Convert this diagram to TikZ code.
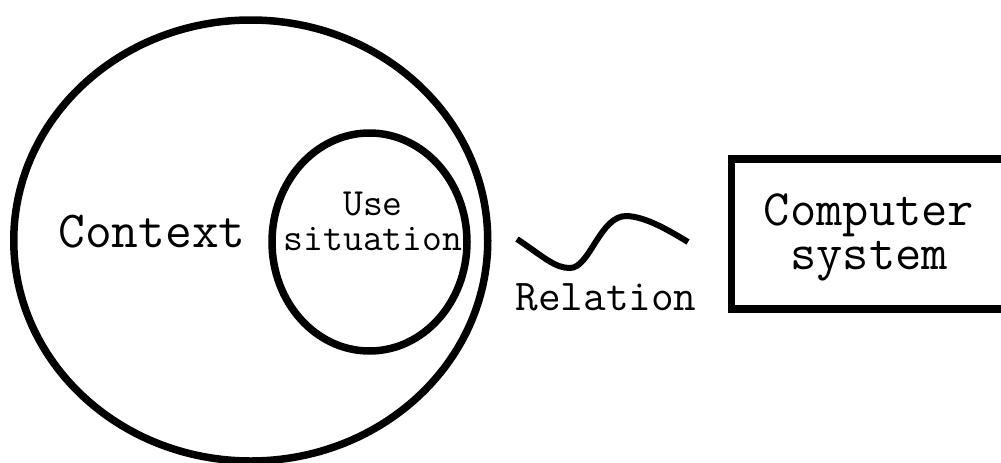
\documentclass[tikz,border=0pt]{standalone}
\begin{document}
\begin{tikzpicture}[x=1pt,y=1pt,
  shape line/.style={draw=black, line width=7.5pt},
  wave line/.style={draw=black, line width=6pt},
  txt/.style={inner sep=0pt, anchor=base, align=center}]
\useasboundingbox (0,0) rectangle (1001,-463);
\fill[white] (0,0) rectangle (1001,-463);
% outer context ellipse
\draw[shape line] (250.75,-240.5) ellipse [x radius=237, y radius=220.5];
% inner use situation ellipse
\draw[shape line] (369.5,-242) ellipse [x radius=97.5, y radius=109];
% computer system box (extends beyond right edge)
\draw[shape line] (1040,-159) -- (731.5,-159) -- (731.5,-309) -- (1040,-309);
% texts (base anchor = baseline of the last line)
\node[txt, font=\ttfamily\fontsize{52}{52}\selectfont] (context) at (152,-247) {Context};
\node[txt, font=\ttfamily\fontsize{38.5}{35}\selectfont] (use) at (373,-250) {Use\\situation};
\node[txt, font=\ttfamily\fontsize{51}{44}\selectfont] (computer) at (869,-269) {Computer\\system};
\node[txt, font=\ttfamily\fontsize{44}{44}\selectfont] (relation) at (606,-310) {Relation};
% relation wave
\coordinate (ws) at (517,-239);
\coordinate (we) at (688,-242);
\draw[wave line] (ws) .. controls (545,-258) and (555,-268) .. (570,-268)
  .. controls (590,-268) and (600,-215) .. (627,-216)
  .. controls (645,-217) and (665,-228) .. (we);
\end{tikzpicture}
\end{document}
